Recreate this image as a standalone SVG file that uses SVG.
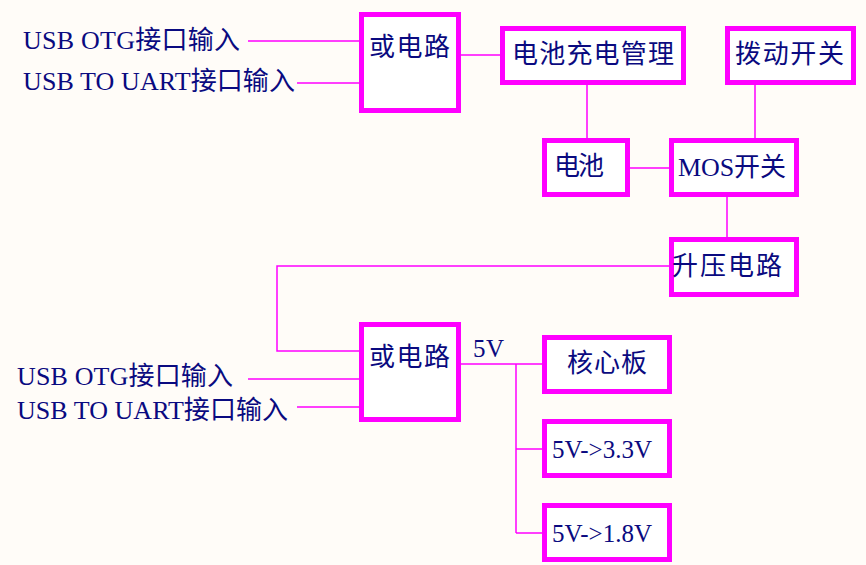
<svg xmlns="http://www.w3.org/2000/svg" width="866" height="565" viewBox="0 0 866 565">
<style>
.box{fill:#ffffff;stroke:#ff00ff;stroke-width:5}
.ln{fill:none;stroke:#ff00ff;stroke-width:1.5}
text{font-family:"Liberation Serif","Noto Sans CJK SC",serif;font-size:26px;fill:#0a0a80}
.lat{font-size:25px}
</style>
<rect width="866" height="565" fill="#fffcf8"/>
<g id="connectors">
<path class="ln" d="M248,41H360"/>
<path class="ln" d="M297,83H360"/>
<path class="ln" d="M461,55H500"/>
<path class="ln" d="M587,85V138"/>
<path class="ln" d="M755,85V138"/>
<path class="ln" d="M630,168H669"/>
<path class="ln" d="M727,197V237"/>
<path class="ln" d="M669,266H277V351H359"/>
<path class="ln" d="M248,379H359"/>
<path class="ln" d="M297,407H359"/>
<path class="ln" d="M461,364H542"/>
<path class="ln" d="M516,364V533"/>
<path class="ln" d="M516,449H542"/>
<path class="ln" d="M516,533H542"/>
</g>
<g id="labels">
<text x="23" y="49" textLength="217">USB OTG接口输入</text>
<text x="23" y="90" textLength="272">USB TO UART接口输入</text>
<text x="17" y="385" textLength="216">USB OTG接口输入</text>
<text x="17" y="419" textLength="271">USB TO UART接口输入</text>
<text class="lat" x="473" y="357" textLength="31">5V</text>
</g>
<g id="or1"><rect class="box" x="361.5" y="14.5" width="97" height="96"/><text x="369" y="56" textLength="81">或电路</text></g>
<g id="charge"><rect class="box" x="502.5" y="28.5" width="181" height="54"/><text x="512" y="63" textLength="162">电池充电管理</text></g>
<g id="toggle"><rect class="box" x="727.5" y="28.5" width="126" height="54"/><text x="735" y="63" textLength="109">拨动开关</text></g>
<g id="battery"><rect class="box" x="544.5" y="140.5" width="83" height="54"/><text x="554" y="175" textLength="50">电池</text></g>
<g id="mos"><rect class="box" x="671.5" y="140.5" width="125" height="54"/><text x="678" y="176" textLength="108">MOS开关</text></g>
<g id="boost"><rect class="box" x="671.5" y="239.5" width="125" height="55"/><text x="672" y="275" textLength="110">升压电路</text></g>
<g id="or2"><rect class="box" x="361.5" y="324.5" width="97" height="95"/><text x="369" y="366" textLength="81">或电路</text></g>
<g id="core"><rect class="box" x="544.5" y="337.5" width="125" height="54"/><text x="567" y="372" textLength="80">核心板</text></g>
<g id="v33"><rect class="box" x="544.5" y="421.5" width="125" height="54"/><text class="lat" x="552" y="458" textLength="100">5V-&gt;3.3V</text></g>
<g id="v18"><rect class="box" x="544.5" y="505.5" width="125" height="54"/><text class="lat" x="552" y="542" textLength="100">5V-&gt;1.8V</text></g>
</svg>
